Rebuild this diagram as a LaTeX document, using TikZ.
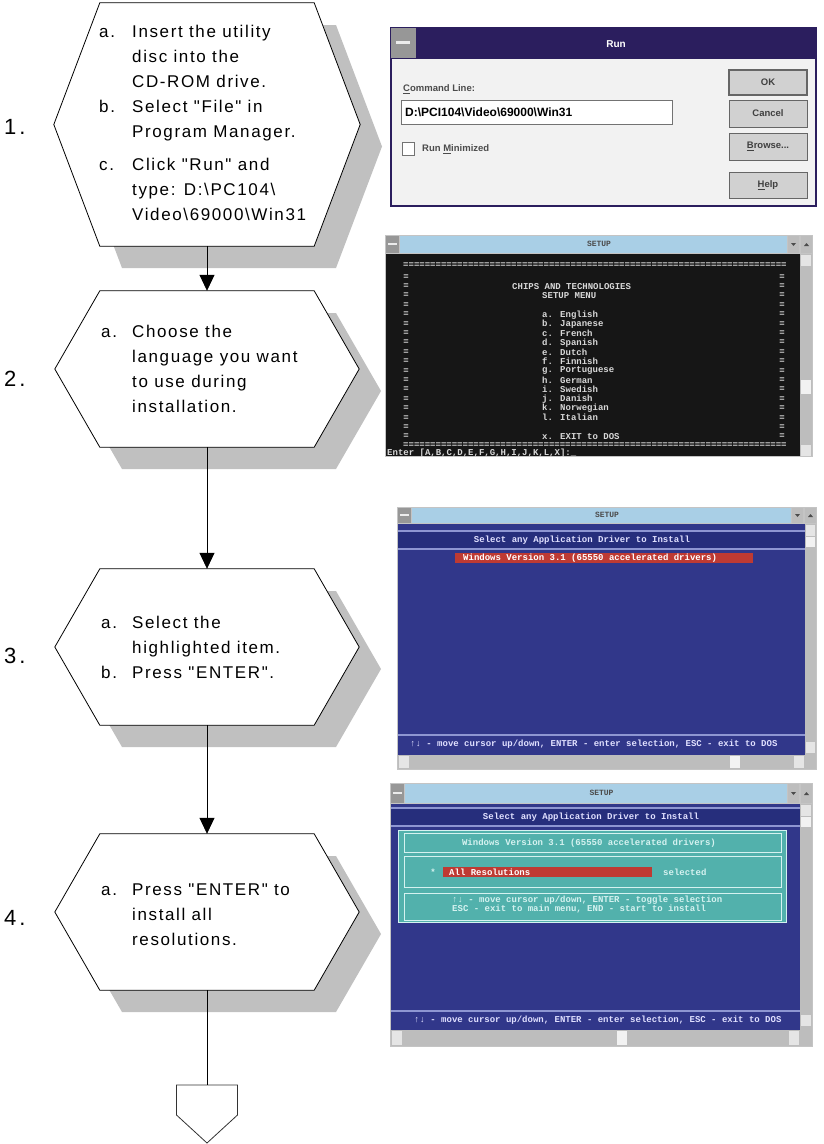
\documentclass[tikz,border=0pt]{standalone}
\usepackage{fontspec}
\usetikzlibrary{arrows.meta}
\newfontfamily\flowfont{Liberation Sans}[LetterSpace=9.5]
\newfontfamily\numfont{Liberation Sans}[LetterSpace=14]
\newfontfamily\uifont{Liberation Sans}
\newfontfamily\dosfont{Liberation Mono}
\definecolor{shadowgray}{HTML}{C0C0C0}
\definecolor{framegray}{HTML}{C4C4C4}
\definecolor{titleblue}{HTML}{A9CFE6}
\definecolor{btngray}{HTML}{BDBDBD}
\definecolor{dosblack}{HTML}{161616}
\definecolor{dosblue}{HTML}{31378A}
\definecolor{bandblue}{HTML}{262E7C}
\definecolor{bandline}{HTML}{8E96D2}
\definecolor{redbar}{HTML}{BE3A33}
\definecolor{tealbox}{HTML}{52B1AC}
\definecolor{teallight}{HTML}{D5F2F0}
\definecolor{runpurple}{HTML}{2B1E5E}
\definecolor{dialogbg}{HTML}{F2F2F2}
\definecolor{dostxt}{HTML}{D8D8D8}
\newcommand\eqrow{=======================================================================}
\newcommand\hexshape[4]{% name, cy, halfh, slant
  \fill[shadowgray] (207-107+22,#2-#3+22) -- (207+107+22,#2-#3+22) -- (207+107+#4+22,#2+22) -- (207+107+22,#2+#3+22) -- (207-107+22,#2+#3+22) -- (207-107-#4+22,#2+22) -- cycle;
  \node[hexcore, minimum height=2*#3] (#1) at (207,#2) {};
  \draw[hexline] (#1.north west) -- (#1.north east) -- ([xshift=#4]#1.east) -- (#1.south east) -- (#1.south west) -- ([xshift=-#4]#1.west) -- cycle;
}
\newcommand\setupwin[6]{% prefix, x1, y1, x2, y2, title bottom
  \fill[framegray] (#2,#3) rectangle (#4,#5);
  \fill[titleblue] (#2+15,#3+1) rectangle (#4-26,#6);
  \fill[btngray!80!black] (#2+1,#3+1) rectangle (#2+14,#6);
  \fill[white!85!gray] (#2+3,{(#3+#6)/2-1}) rectangle (#2+12,{(#3+#6)/2+1});
  \fill[btngray] (#4-25,#3+1) rectangle (#4-14,#6);
  \fill[btngray] (#4-12,#3+1) rectangle (#4-1,#6);
  \fill[black!70] (#4-22,{(#3+#6)/2-1}) -- (#4-17,{(#3+#6)/2-1}) -- (#4-19.5,{(#3+#6)/2+2}) -- cycle;
  \fill[black!70] (#4-9,{(#3+#6)/2+2}) -- (#4-4,{(#3+#6)/2+2}) -- (#4-6.5,{(#3+#6)/2-1}) -- cycle;
  \node[wintitle] (#1title) at ({(#2+#4)/2},{(#3+#6)/2}) {SETUP};
}
\begin{document}
\begin{tikzpicture}[x=1pt,y=-1pt,
  hexcore/.style={rectangle, minimum width=214, inner sep=0, draw=none},
  hexline/.style={draw=black, line width=0.8pt, fill=white},
  flowtext/.style={inner sep=0, font=\flowfont\fontsize{17}{25}\selectfont},
  numtext/.style={inner sep=0, anchor=base west, font=\numfont\fontsize{22}{22}\selectfont},
  flowarrow/.style={line width=0.8pt, -{Triangle[width=15pt,length=16pt]}},
  flowline/.style={line width=0.8pt},
  dostext/.style={inner sep=0, text=dostxt, font=\dosfont\bfseries\fontsize{9}{9}\selectfont},
  wintitle/.style={inner sep=0, text=black!70, font=\dosfont\bfseries\fontsize{8}{8}\selectfont},
  uitext/.style={inner sep=0, anchor=west, text=black!70, font=\uifont\bfseries\fontsize{9.5}{9.5}\selectfont},
  btn/.style={fill=btngray!70!white, draw=black!60, line width=0.8pt},
  btnlabel/.style={inner sep=0, text=black!75, font=\uifont\bfseries\fontsize{9.5}{9.5}\selectfont}
]
\useasboundingbox (0,0) rectangle (824,1144);
\fill[white] (0,0) rectangle (824,1144);

% ---------------- flowchart ----------------
\hexshape{h1}{124.5}{121.5}{46}
\hexshape{h2}{369}{78}{45}
\hexshape{h3}{647}{78}{45}
\hexshape{h4}{912}{78}{45}

\node[numtext] (n1) at (4,134) {1.};
\node[numtext] (n2) at (4,386) {2.};
\node[numtext] (n3) at (4,663) {3.};
\node[numtext] (n4) at (4,925) {4.};

\node[flowtext, anchor=base west] (t1) at (99,37.5) {\begin{tabular}[t]{@{}p{33pt}@{}l@{}}
a. & Insert the utility\\
 & disc into the\\
 & CD-ROM drive.\\
b. & Select "File" in\\
 & Program Manager.\\[8pt]
c. & Click "Run" and\\
 & type: D:\textbackslash PC104\textbackslash\\
 & Video\textbackslash 69000\textbackslash Win31
\end{tabular}};
\node[flowtext, anchor=base west] (t2) at (101,337.5) {\begin{tabular}[t]{@{}p{31pt}@{}l@{}}
a. & Choose the\\
 & language you want\\
 & to use during\\
 & installation.
\end{tabular}};
\node[flowtext, anchor=base west] (t3) at (101,628.5) {\begin{tabular}[t]{@{}p{31pt}@{}l@{}}
a. & Select the\\
 & highlighted item.\\
b. & Press "ENTER".
\end{tabular}};
\node[flowtext, anchor=base west] (t4) at (101,895.5) {\begin{tabular}[t]{@{}p{31pt}@{}l@{}}
a. & Press "ENTER" to\\
 & install all\\
 & resolutions.
\end{tabular}};

\node[rectangle, minimum width=61, minimum height=58, inner sep=0] (endc) at (207,1114) {};
\draw[line width=0.8pt, draw=black!80, fill=white] (176.5,1085) -- (237.5,1085) -- (237.5,1115) -- (207,1143) -- (176.5,1115) -- cycle;

\draw[flowarrow] (h1.south) -- (h2.north);
\draw[flowarrow] (h2.south) -- (h3.north);
\draw[flowarrow] (h3.south) -- (h4.north);
\draw[flowline] (h4.south) -- (endc.north);

% ---------------- screenshot 1: Run dialog ----------------
\fill[runpurple] (390,27) rectangle (817,207);
\fill[dialogbg] (392,59) rectangle (815,205);
\fill[btngray!80!black] (391,28) rectangle (416,58);
\fill[white!85!gray] (396,41) rectangle (410,44);
\node[inner sep=0, text=white, font=\uifont\bfseries\fontsize{10}{10}\selectfont] (runtitle) at (616,44) {Run};
\node[uitext] (cmdlbl) at (403,89) {\underline{C}ommand Line:};
\draw[draw=black!55, fill=white, line width=0.8pt] (401,100) rectangle (672,124);
\node[inner sep=0, anchor=west, font=\uifont\bfseries\fontsize{12}{12}\selectfont] (cmdtxt) at (405,112) {D:\textbackslash PCI104\textbackslash Video\textbackslash 69000\textbackslash Win31};
\draw[draw=black!55, fill=white, line width=0.8pt] (402,142) rectangle (414,155);
\node[uitext] (runmin) at (422,149) {Run \underline{M}inimized};
\draw[btn, line width=1.6pt] (729,70) rectangle (807,95);
\node[btnlabel] (okb) at (768,82.5) {OK};
\draw[btn] (729,100) rectangle (807,127);
\node[btnlabel] (cancelb) at (768,113.5) {Cancel};
\draw[btn] (729,133) rectangle (807,160);
\node[btnlabel] (browseb) at (768,146.5) {\underline{B}rowse...};
\draw[btn] (729,172) rectangle (807,198);
\node[btnlabel] (helpb) at (768,185) {\underline{H}elp};

% ---------------- screenshot 2: language menu ----------------
\setupwin{s2}{385}{235}{813}{457}{253}
\fill[dosblack] (386,254) rectangle (800,456);
\fill[btngray] (800,254) rectangle (812,456);
\fill[white!80!gray] (801,255) rectangle (811,266);
\fill[white!90!gray] (801,380) rectangle (811,394);
\fill[white!80!gray] (801,445) rectangle (811,456);
\node[dostext, anchor=west] (eqtop) at (403,265) {\eqrow};
\node[dostext, anchor=west] (eqbot) at (403,445) {\eqrow};
\foreach \i in {0,...,17} {
  \node[dostext] (ml\i) at (406,{276.7+9.4*\i}) {=};
  \node[dostext] (mr\i) at (782,{276.7+9.4*\i}) {=};
}
\node[dostext, anchor=west] (chips) at (512,287) {CHIPS AND TECHNOLOGIES};
\node[dostext, anchor=west] (smenu) at (542,296) {SETUP MENU};
\foreach \t [count=\i] in {a. English, b. Japanese, c. French, d. Spanish, e. Dutch, f. Finnish, g. Portuguese, h. German, i. Swedish, j. Danish, k. Norwegian, l. Italian} {
  \node[dostext, anchor=west] (lang\i) at (542,{315+9.3*(\i-1)}) {\t};
}
\node[dostext, anchor=west] (exitdos) at (542,437) {x. EXIT to DOS};
\node[dostext, anchor=west] (enterln) at (387,453) {Enter [A,B,C,D,E,F,G,H,I,J,K,L,X]:\_};

% ---------------- screenshot 3: driver list ----------------
\setupwin{s3}{397}{507}{817}{770}{523}
\fill[dosblue] (398,524) rectangle (805,755);
\fill[bandline] (398,530) rectangle (805,550);
\fill[bandblue] (398,532) rectangle (805,548);
\node[dostext, text=white!88!blue] (hdr3) at (582,540) {Select any Application Driver to Install};
\fill[redbar] (455,553) rectangle (753,563);
\node[dostext, anchor=west, text=white] (drv3) at (463,558) {Windows Version 3.1 (65550 accelerated drivers)};
\fill[bandline] (398,734) rectangle (805,736);
\node[dostext, anchor=west, text=white!88!blue] (stat3) at (410,744) {↑↓ - move cursor up/down, ENTER - enter selection, ESC - exit to DOS};
\fill[btngray] (398,755) rectangle (805,769);
\fill[white!80!gray] (399,756) rectangle (409,768);
\fill[white!90!gray] (730,756) rectangle (740,768);
\fill[white!80!gray] (794,756) rectangle (804,768);
\fill[btngray] (805,524) rectangle (816,769);
\fill[white!80!gray] (806,525) rectangle (815,536);
\fill[white!90!gray] (806,537) rectangle (815,547);
\fill[white!80!gray] (806,742) rectangle (815,753);

% ---------------- screenshot 4: resolutions ----------------
\setupwin{s4}{390}{783}{813}{1047}{803}
\fill[dosblue] (391,804) rectangle (800,1030);
\fill[bandline] (391,807) rectangle (800,827);
\fill[bandblue] (391,809) rectangle (800,825);
\node[dostext, text=white!88!blue] (hdr4) at (591,817) {Select any Application Driver to Install};
\fill[teallight] (398,830) rectangle (787,923);
\fill[tealbox] (399,831) rectangle (786,922);
\draw[teallight, line width=0.8pt] (404,833) rectangle (781,852);
\node[dostext, text=teallight] (drv4) at (589,843) {Windows Version 3.1 (65550 accelerated drivers)};
\draw[teallight, line width=0.8pt] (404,856) rectangle (781,887);
\node[dostext, text=teallight] (star4) at (433,872) {*};
\fill[redbar] (443,867) rectangle (652,877);
\node[dostext, anchor=west, text=white] (allres) at (449,872) {All Resolutions};
\node[dostext, anchor=west, text=teallight] (sel4) at (663,872) {selected};
\draw[teallight, line width=0.8pt] (404,893) rectangle (781,920);
\node[dostext, anchor=west, text=teallight] (keys1) at (452,900) {↑↓  - move cursor up/down, ENTER - toggle selection};
\node[dostext, anchor=west, text=teallight] (keys2) at (452,909) {ESC - exit to main menu,   END   - start to install};
\fill[bandline] (391,1010) rectangle (800,1012);
\node[dostext, anchor=west, text=white!88!blue] (stat4) at (414,1020) {↑↓ - move cursor up/down, ENTER - enter selection, ESC - exit to DOS};
\fill[btngray] (391,1030) rectangle (800,1046);
\fill[white!80!gray] (392,1031) rectangle (402,1045);
\fill[white!90!gray] (617,1031) rectangle (627,1045);
\fill[white!80!gray] (789,1031) rectangle (799,1045);
\fill[btngray] (800,804) rectangle (812,1046);
\fill[white!80!gray] (801,805) rectangle (811,816);
\fill[white!90!gray] (801,817) rectangle (811,827);
\fill[white!80!gray] (801,1015) rectangle (811,1026);
\end{tikzpicture}
\end{document}
